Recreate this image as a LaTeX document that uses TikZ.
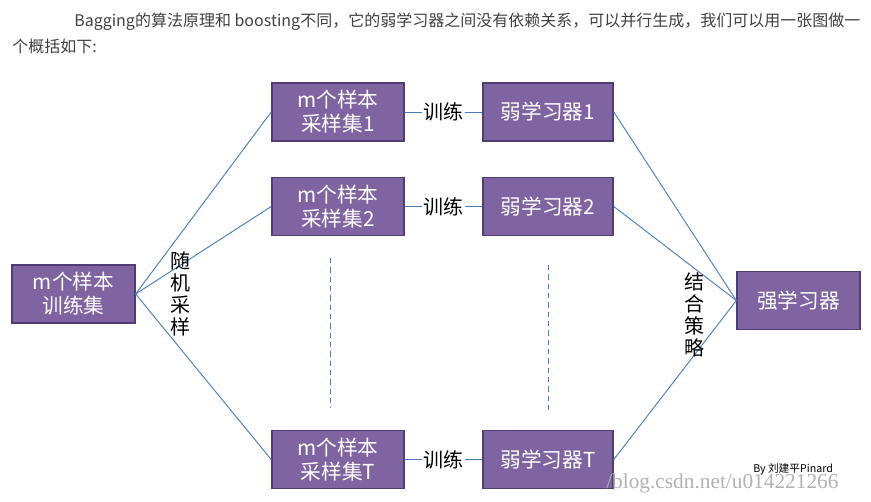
\documentclass[tikz,border=0pt]{standalone}
\usepackage{fontspec}
\setmainfont{Noto Sans CJK SC}
\newfontfamily\wm{Liberation Serif}
\definecolor{boxfill}{HTML}{8064A2}
\definecolor{boxdraw}{HTML}{4F3D78}
\definecolor{lnk}{HTML}{4A7EBB}
\begin{document}
\begin{tikzpicture}[x=0.75pt,y=-0.75pt,
  bx/.style={draw=boxdraw,line width=1.2pt,fill=boxfill,text=white,minimum width=99pt,minimum height=43.5pt,align=center,font=\fontsize{15.5}{18}\selectfont,inner sep=1pt},
  lk/.style={draw=lnk,line width=0.7pt},
  lbl/.style={font=\fontsize{15}{16}\selectfont,fill=white,inner sep=1pt},
  vl/.style={font=\fontsize{15}{16.5}\selectfont,align=center,inner sep=0pt}]
\useasboundingbox (0,0) rectangle (871,501);
\node[anchor=west,text=black!75,font=\fontsize{12}{14}\selectfont,inner sep=0] (intro1) at (74,22) {Bagging的算法原理和 boosting不同，它的弱学习器之间没有依赖关系，可以并行生成，我们可以用一张图做一};
\node[anchor=west,text=black!75,font=\fontsize{12}{14}\selectfont,inner sep=0] (intro2) at (12,46) {个概括如下:};
\node[bx,minimum width=92pt] (tr) at (73.5,294) {m个样本\\训练集};
\node[bx] (s1) at (338,112) {m个样本\\采样集1};
\node[bx] (s2) at (338,206.5) {m个样本\\采样集2};
\node[bx] (sT) at (338,459.5) {m个样本\\采样集T};
\node[bx,minimum width=97.5pt] (w1) at (548,112) {弱学习器1};
\node[bx,minimum width=97.5pt] (w2) at (548,206.5) {弱学习器2};
\node[bx,minimum width=97.5pt] (wT) at (548,459.5) {弱学习器T};
\node[bx,minimum width=92pt] (st) at (798.5,300.5) {强学习器};
\foreach \s in {s1,s2,sT}{\draw[lk] (tr.east) -- (\s.west);}
\foreach \w in {w1,w2,wT}{\draw[lk] (\w.east) -- (st.west);}
\draw[lk] (s1.east) -- node[lbl] (t1) {训练} (w1.west);
\draw[lk] (s2.east) -- node[lbl] (t2) {训练} (w2.west);
\draw[lk] (sT.east) -- node[lbl] (t3) {训练} (wT.west);
\coordinate (d1a) at (330,258); \coordinate (d1b) at (330,408);
\coordinate (d2a) at (548,265); \coordinate (d2b) at (548,413);
\draw[lk,dashed,dash pattern=on 4pt off 3pt] (d1a) -- (d1b);
\draw[lk,dashed,dash pattern=on 4pt off 3pt] (d2a) -- (d2b);
\node[vl] (rs) at (180,294) {随\\机\\采\\样};
\node[vl] (cs) at (694,315) {结\\合\\策\\略};
\node[text=black!30,font=\wm\fontsize{16}{18}\selectfont,inner sep=0,anchor=west] (wmk) at (606,483) {/blog.csdn.net/u014221266};
\node[font=\fontsize{8}{9}\selectfont,inner sep=0,anchor=west] (by) at (753,469) {By 刘建平Pinard};
\end{tikzpicture}
\end{document}
